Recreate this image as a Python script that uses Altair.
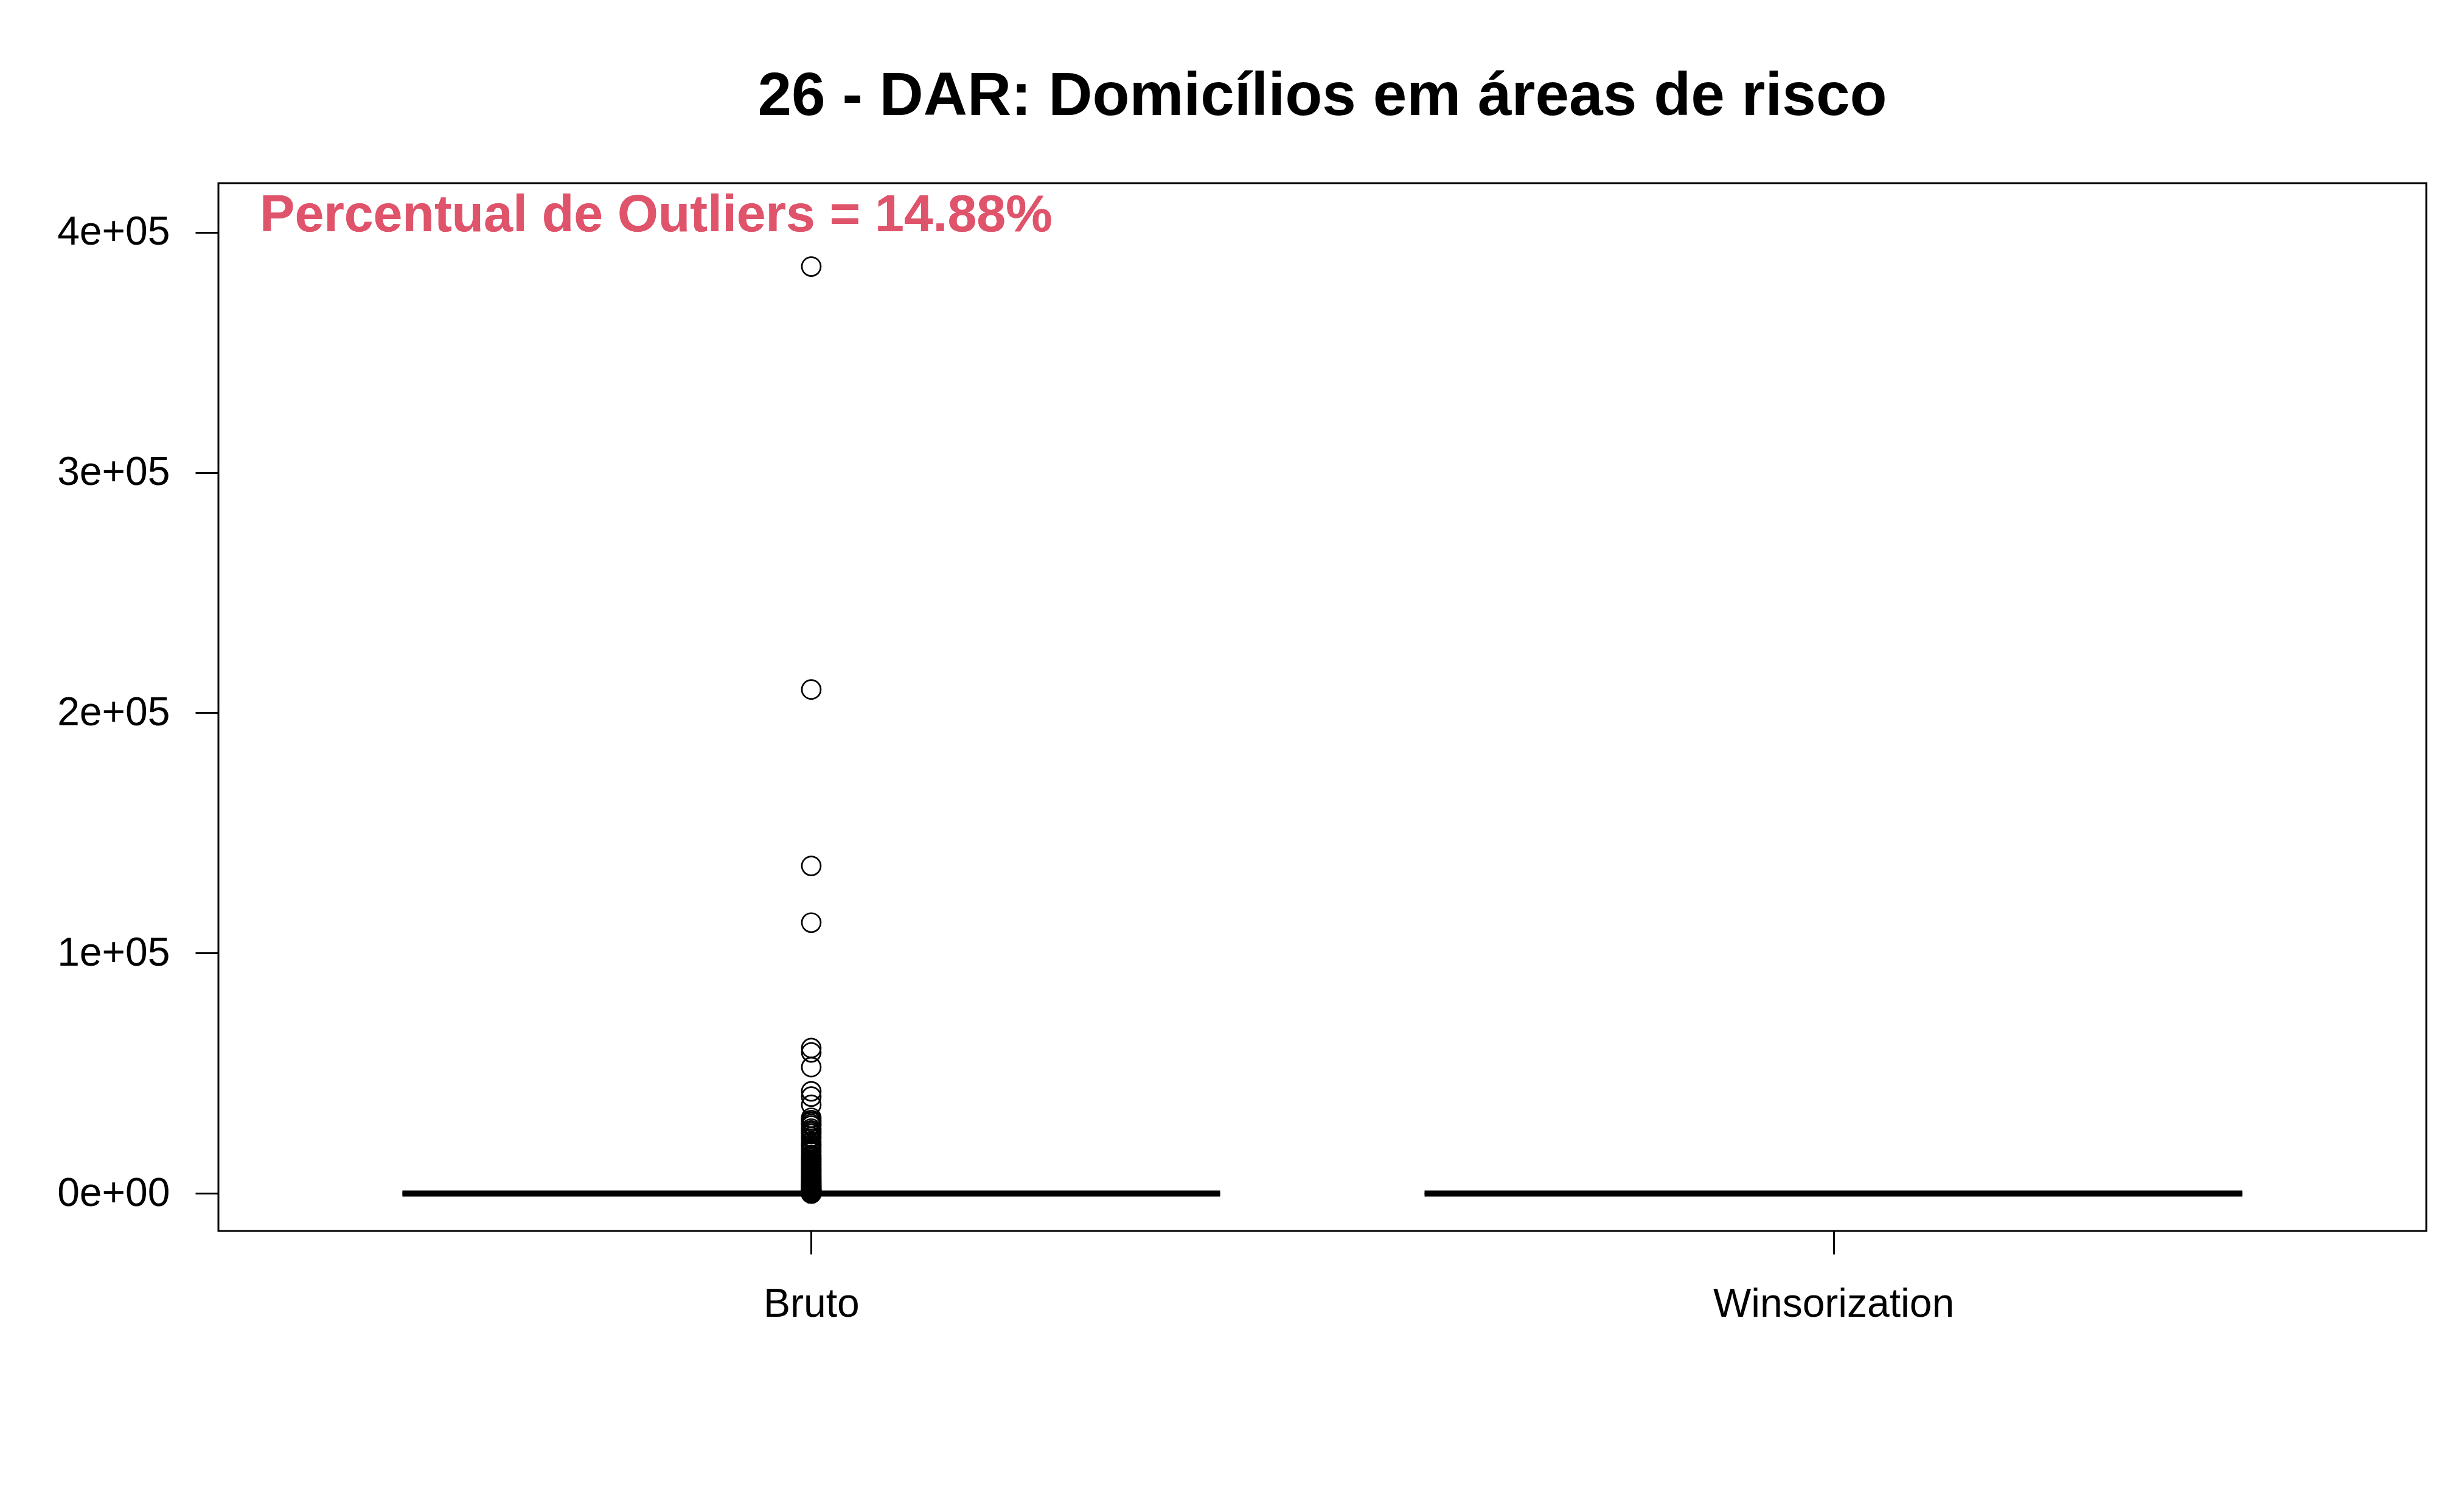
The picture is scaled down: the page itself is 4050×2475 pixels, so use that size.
import altair as alt
import pandas as pd

# ---------------- data ----------------
groups = ["Bruto", "Winsorization"]
group_pos = [1, 2]
q1 = [0, 0]
median = [0, 0]
q3 = [0, 0]
whisker_low = [0, 0]
whisker_high = [0, 0]

# outliers of the raw ("Bruto") series
bruto_outliers = [
    385700, 209700, 136300, 112700, 60500, 58700, 52600, 42500, 40300, 36900,
    31500, 30500, 29800, 28900, 28200, 27000, 26200, 25500, 24800, 23600,
    22800, 21500, 20500, 19800, 18900, 18000, 17200, 16000, 15300, 14600,
    14000, 13300, 12800, 12100, 11500, 10900, 10300, 9800, 9200, 8700,
    8100, 7600, 7100, 6600, 6100, 5600, 5200, 4800, 4400, 4000,
    3600, 3200, 2900, 2600, 2300, 2000, 1700, 1500, 1300, 1100,
    900, 750, 600, 500, 400, 300, 250, 200, 150, 100,
    80, 60, 50, 40, 30, 20, 10,
]

y_tick_values = [0, 100000, 200000, 300000, 400000]
y_tick_labels = ["0e+00", "1e+05", "2e+05", "3e+05", "4e+05"]

title_text = "26 - DAR: Domicílios em áreas de risco"
annotation_text = "Percentual de Outliers = 14.88%"
outlier_color = "#DF536B"

# ---------------- tables ----------------
half = 0.4
box_df = pd.DataFrame({
    "group": groups,
    "pos": group_pos,
    "lo": [p - half for p in group_pos],
    "hi": [p + half for p in group_pos],
    "cap_lo": [p - half / 2 for p in group_pos],
    "cap_hi": [p + half / 2 for p in group_pos],
    "q1": q1,
    "median": median,
    "q3": q3,
    "wlo": whisker_low,
    "whi": whisker_high,
})
out_df = pd.DataFrame({"pos": [group_pos[0]] * len(bruto_outliers),
                       "value": bruto_outliers})

FONT = "Liberation Sans"

x_label_expr = " : ".join(
    f"datum.value == {p} ? '{g}'" for p, g in zip(group_pos, groups)
) + " : ''"
y_label_expr = " : ".join(
    f"datum.value == {v} ? '{l}'" for v, l in zip(y_tick_values, y_tick_labels)
) + " : ''"

x_scale = alt.Scale(domain=[0.42, 2.58], nice=False, zero=False)
y_scale = alt.Scale(domain=[-15600, 420400], nice=False, zero=False)

x_axis = alt.Axis(values=group_pos, labelExpr=x_label_expr, title=None,
                  grid=False, domain=False, tickSize=38, tickWidth=3,
                  tickColor="black", labelPadding=50, labelFontSize=66,
                  labelFont=FONT, labelColor="black", labelLimit=0)
y_axis = alt.Axis(values=y_tick_values, labelExpr=y_label_expr, title=None,
                  grid=False, domain=False, tickSize=38, tickWidth=3,
                  tickColor="black", labelPadding=42, labelFontSize=66,
                  labelFont=FONT, labelColor="black", labelLimit=0)

base = alt.Chart(box_df)

box = base.mark_rect(fillOpacity=0, stroke="black", strokeWidth=3).encode(
    x=alt.X("lo:Q", scale=x_scale, axis=x_axis),
    x2="hi:Q",
    y=alt.Y("q1:Q", scale=y_scale, axis=y_axis),
    y2="q3:Q",
)

whisk_hi = base.mark_rule(color="black", strokeWidth=3, strokeDash=[12, 12]).encode(
    x=alt.X("pos:Q", scale=x_scale, axis=x_axis),
    y=alt.Y("q3:Q", scale=y_scale, axis=y_axis),
    y2="whi:Q",
)
cap_hi = base.mark_rule(color="black", strokeWidth=3).encode(
    x=alt.X("cap_lo:Q", scale=x_scale, axis=x_axis),
    x2="cap_hi:Q",
    y=alt.Y("whi:Q", scale=y_scale, axis=y_axis),
)

med = base.mark_rule(color="black", strokeWidth=10, strokeCap="butt").encode(
    x=alt.X("lo:Q", scale=x_scale, axis=x_axis),
    x2="hi:Q",
    y=alt.Y("median:Q", scale=y_scale, axis=y_axis),
)

points = alt.Chart(out_df).mark_point(
    shape="circle", filled=False, size=961, strokeWidth=2.7,
    color="black", opacity=1,
).encode(
    x=alt.X("pos:Q", scale=x_scale, axis=x_axis),
    y=alt.Y("value:Q", scale=y_scale, axis=y_axis),
)

annot = base.mark_text(
    align="left", baseline="alphabetic", font=FONT, fontSize=86,
    fontWeight="bold", color=outlier_color,
).encode(
    x=alt.datum(0.4605, scale=x_scale, axis=x_axis),
    y=alt.datum(400400, scale=y_scale, axis=y_axis),
    text=alt.value(annotation_text),
)

chart = alt.layer(box, whisk_hi, cap_hi, med, points, annot).properties(
    width=3629,
    height=1722,
    title=alt.TitleParams(text=title_text, font=FONT, fontSize=100,
                          fontWeight="bold", color="black", anchor="middle",
                          baseline="alphabetic", offset=12),
    padding={"left": 359, "top": 301, "right": 62, "bottom": 452},
    autosize=alt.AutoSizeParams(type="none"),
    background="white",
).configure_view(stroke="black", strokeWidth=3)

chart.save("out.html", embed_options={"renderer": "svg", "actions": False})
